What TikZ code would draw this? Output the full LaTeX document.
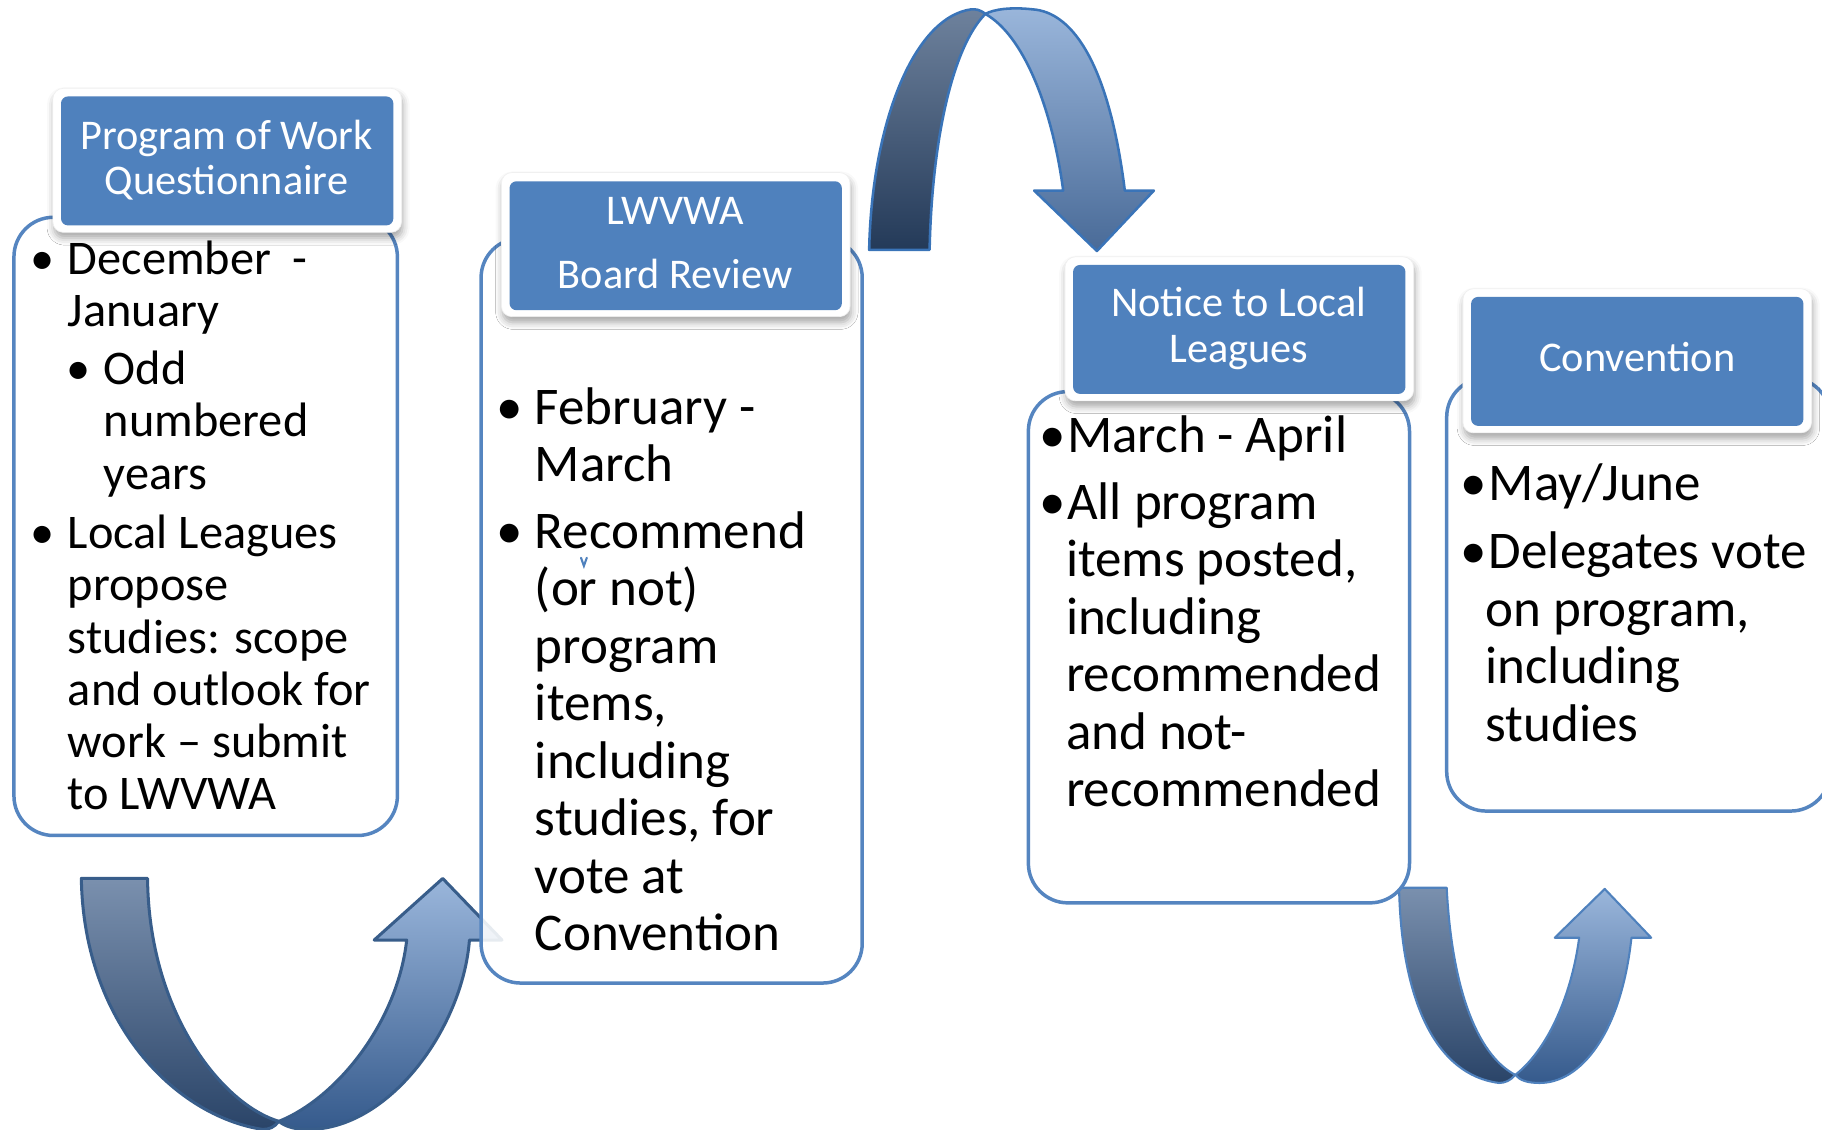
\documentclass[tikz,border=0pt]{standalone}
\usepackage{fontspec}
\setmainfont{Carlito}
\usetikzlibrary{shadows.blur}
\definecolor{hdr}{HTML}{4F81BD}
\definecolor{bodyln}{HTML}{5585C0}
\definecolor{arrAline}{HTML}{385D8A}
\definecolor{arrBline}{HTML}{3A74B8}
\definecolor{arrDline}{HTML}{4F81BD}
\definecolor{darkstrTop}{HTML}{7A90AE}
\definecolor{darkstrBot}{HTML}{2A4468}
\definecolor{liteTop}{HTML}{9AB6DB}
\definecolor{liteMid}{HTML}{5889C4}
\definecolor{liteBot}{HTML}{355A8C}
\definecolor{markblue}{HTML}{4F81BD}
\begin{document}
\begin{tikzpicture}[x=0.5pt,y=-0.5pt,
  bodybox/.style={draw=bodyln, line width=1.5pt, fill=white, rounded corners=17pt, inner sep=0pt, outer sep=0pt},
  hdrout/.style={fill=white, draw=black!6, line width=0.3pt, rounded corners=4.5pt, minimum width=150pt, minimum height=62pt, inner sep=0pt,
     blur shadow={shadow xshift=0.5pt, shadow yshift=-2.5pt, shadow blur radius=3pt, shadow opacity=35}},
  hdrin/.style={fill=hdr, rounded corners=3pt, minimum width=143pt, minimum height=55.5pt, inner sep=0pt},
  hdrtxt/.style={text=white, font=\fontsize{18.2pt}{21pt}\selectfont, anchor=base, inner sep=0pt},
  txtA/.style={anchor=base west, inner sep=0pt, font=\fontsize{20.8pt}{22pt}\selectfont},
  bulA/.style={anchor=base, inner sep=0pt, font=\fontsize{20.8pt}{22pt}\selectfont},
  txtB/.style={anchor=base west, inner sep=0pt, font=\fontsize{22.8pt}{25pt}\selectfont},
  bulB/.style={anchor=base, inner sep=0pt, font=\fontsize{22.8pt}{25pt}\selectfont}
]
\useasboundingbox (0,0) rectangle (1568,972);

% ---------- Arrow A (bottom left, box 1 -> box 2) ----------
\shadedraw[top color=darkstrTop, bottom color=darkstrBot, draw=arrAline, line width=1.3pt, line join=round]
  (70,756) -- (127,756) .. controls (128,870) and (190,950) .. (240,965)
  .. controls (236,970) and (232,972) .. (226,972)
  .. controls (150,960) and (72,880) .. (70,756) -- cycle;
\shadedraw[top color=liteTop, middle color=liteMid, bottom color=liteBot, draw=arrAline, line width=1.3pt, line join=round]
  (240,965) .. controls (290,945) and (342,880) .. (350,809)
  -- (322,809) -- (381,756) -- (432,809) -- (404,809)
  .. controls (398,885) and (335,972) .. (265,972)
  .. controls (255,972) and (246,970) .. (240,965) -- cycle;

% ---------- Arrow B (top, box 2 -> box 3) ----------
\shadedraw[top color=darkstrTop!90!black, bottom color=darkstrBot!85!black, draw=arrBline, line width=1.1pt, line join=round]
  (748,215) -- (800,215) .. controls (802,120) and (820,40) .. (848,12)
  .. controls (843,8) and (840,8) .. (836,8)
  .. controls (785,15) and (750,110) .. (748,215) -- cycle;
\shadedraw[top color=liteTop, middle color=liteMid, bottom color=liteBot!90, draw=arrBline, line width=1.1pt, line join=round]
  (848,12) .. controls (880,30) and (905,90) .. (915,164)
  -- (890,164) -- (944,216) -- (993,164) -- (968,164)
  .. controls (955,60) and (925,10) .. (888,8)
  .. controls (870,6) and (855,8) .. (848,12) -- cycle;

% ---------- Arrow D (bottom right, box 3 -> box 4) ----------
\shadedraw[top color=darkstrTop, bottom color=darkstrBot, draw=arrDline, line width=0.9pt, line join=round]
  (1204,764) -- (1245,764) .. controls (1250,860) and (1275,910) .. (1304,925)
  .. controls (1300,930) and (1295,932) .. (1290,932)
  .. controls (1235,925) and (1206,860) .. (1204,764) -- cycle;
\shadedraw[top color=liteTop, middle color=liteMid, bottom color=liteBot, draw=arrDline, line width=0.9pt, line join=round]
  (1304,925) .. controls (1330,905) and (1352,860) .. (1359,807)
  -- (1338,807) -- (1381,765) -- (1421,807) -- (1404,807)
  .. controls (1395,890) and (1360,932) .. (1325,932)
  .. controls (1315,932) and (1308,930) .. (1304,925) -- cycle;

% ---------- Box bodies ----------
\node[bodybox, minimum width=165pt, minimum height=266pt] (body1) at (177,453) {};
\node[bodybox, fill opacity=0.88, minimum width=164pt, minimum height=320.5pt] (body2) at (578,525.5) {};
\node[bodybox, minimum width=164pt, minimum height=220pt] (body3) at (1049,557) {};
\node[bodybox, minimum width=165pt, minimum height=186.5pt] (body4) at (1410,511.5) {};

% stray mark in box 2
\draw[markblue, line width=0.9pt, line cap=round] (500,480) -- (502.5,487) -- (505,480);

% ---------- Headers ----------
\node[hdrout] (h1o) at (195.5,138) {};
\node[hdrin] (h1) at (195.5,138.5) {};
\node[hdrout] (h2o) at (581.5,210.5) {};
\node[hdrin] (h2) at (581.5,211.5) {};
\node[hdrout] (h3o) at (1066.5,283) {};
\node[hdrin] (h3) at (1066.5,283.5) {};
\node[hdrout] (h4o) at (1409,310.5) {};
\node[hdrin] (h4) at (1409,311) {};

\node[hdrtxt] (h1a) at (195,129) {Program of Work};
\node[hdrtxt] (h1b) at (195,167) {Questionnaire};
\node[hdrtxt] (h2a) at (581,193) {LWVWA};
\node[hdrtxt] (h2b) at (581,248) {Board Review};
\node[hdrtxt] (h3a) at (1066,272) {Notice to Local};
\node[hdrtxt] (h3b) at (1066,312) {Leagues};
\node[hdrtxt] (h4a) at (1409,320) {Convention};

% ---------- Box 1 text ----------
\node[bulA] (b1a) at (37,236) {•};
\node[bulA] (b1b) at (68,331) {•};
\node[bulA] (b1c) at (37,472) {•};
\foreach \xx/\yy/\tt [count=\i] in {58/236/{December\ \ -}, 58/281/{January}, 89/331/{Odd},
   89/376/{numbered}, 89/421/{years}, 58/472/{Local Leagues}, 58/517/{propose},
   58/562/{studies: scope}, 58/607/{and outlook for}, 58/652/{work – submit}, 58/697/{to LWVWA}}
  \node[txtA] (t1-\i) at (\xx,\yy) {\tt};

% ---------- Box 2 text ----------
\node[bulB] (b2a) at (439,365) {•};
\node[bulB] (b2b) at (439,472) {•};
\foreach \xx/\yy/\tt [count=\i] in {460/365/{February -}, 460/414/{March}, 460/472/{Recommend},
   460/521/{(or not)}, 460/571/{program}, 460/620/{items,}, 460/670/{including},
   460/719/{studies, for}, 460/769/{vote at}, 460/818/{Convention}}
  \node[txtB] (t2-\i) at (\xx,\yy) {\tt};

% ---------- Box 3 text ----------
\node[bulB] (b3a) at (906,389) {•};
\node[bulB] (b3b) at (906,447) {•};
\foreach \xx/\yy/\tt [count=\i] in {918/389/{March - April}, 918/447/{All program},
   917/496/{items posted,}, 917/546/{including}, 917/595/{recommended},
   917/645/{and not-}, 917/694/{recommended}}
  \node[txtB] (t3-\i) at (\xx,\yy) {\tt};

% ---------- Box 4 text ----------
\node[bulB] (b4a) at (1268,431) {•};
\node[bulB] (b4b) at (1268,489) {•};
\node[txtB] (t4-1) at (1281,431) {May/June};
\foreach \xx/\yy/\tt [count=\i from 2] in {1281/489/{Delegates vote}, 1278/539/{on program,},
   1278/588/{including}, 1278/638/{studies}}
  \node[txtB] (t4-\i) at (\xx,\yy) {\tt};
\end{tikzpicture}
\end{document}
